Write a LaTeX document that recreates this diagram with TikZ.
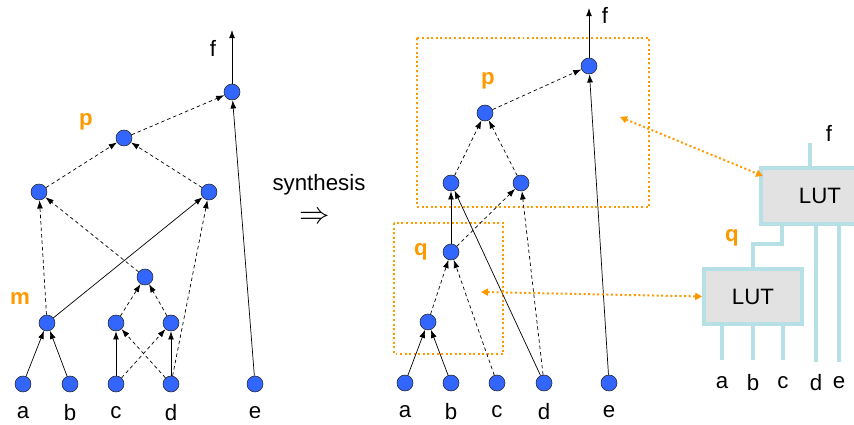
\documentclass[tikz,border=0pt]{standalone}
\usepackage{fontspec}
\setmainfont{Liberation Sans}
\usetikzlibrary{arrows.meta,backgrounds}

\definecolor{gateblue}{RGB}{51,102,255}
\definecolor{hiorange}{RGB}{255,153,0}
\definecolor{wirecyan}{RGB}{183,224,230}
\definecolor{lutgray}{RGB}{226,226,226}

\begin{document}
\begin{tikzpicture}[x=0.03cm, y=-0.03cm, >={Latex[length=7pt,width=5pt]},
    gate/.style={circle, fill=gateblue, draw=black!85, line width=0.5pt, minimum size=0.48cm, inner sep=0pt},
    sig/.style={->, line width=0.6pt},
    dep/.style={->, line width=0.6pt, dash pattern=on 3pt off 2.5pt},
    lbl/.style={inner sep=0pt, font=\fontsize{19}{22}\selectfont},
    hilite/.style={inner sep=0pt, text=hiorange, font=\fontsize{19}{22}\selectfont\bfseries},
    region/.style={draw=hiorange, line width=1.7pt, dash pattern=on 1.7pt off 2.2pt},
    link/.style={region, {Triangle[length=6pt,width=6pt]}-{Triangle[length=6pt,width=6pt]}},
    lutbox/.style={draw=wirecyan, line width=3pt, fill=lutgray, inner sep=0pt, font=\fontsize{19}{22}\selectfont},
    wire/.style={draw=wirecyan, line width=3pt}]

    \clip (0,0) rectangle (854,425);

    % --- Before synthesis ---
    \foreach \n/\x in {a/23,b/70,c/116,d/171,e/255} {
        \node[gate] (l\n) at (\x,384) {};
        \node[lbl] (lt\n) at (\x,413) {\n};
    }
    \node[gate] (lm) at (47,323) {};
    \node[gate] (lc1) at (116,323) {};
    \node[gate] (ld1) at (171,323) {};
    \node[gate] (lx) at (145,277) {};
    \node[gate] (ll) at (39,192) {};
    \node[gate] (lr) at (209,192) {};
    \node[gate] (lp) at (124,138) {};
    \node[gate] (lf) at (232,92) {};
    \coordinate (lout) at (232,30);

    \foreach \s/\t in {la/lm, lb/lm, lc/lc1, ld/ld1, lm/lr, le/lf, lf/lout}
        \draw[sig] (\s) -- (\t);
    \foreach \s/\t in {lc/ld1, ld/lc1, lc1/lx, ld1/lx, lm/ll, lx/ll, ld/lr, ll/lp, lr/lp, lp/lf}
        \draw[dep] (\s) -- (\t);

    \node[lbl] (ltf) at (213,48) {f};
    \node[hilite] (ltm) at (20,299) {m};
    \node[hilite] (ltp) at (86,122) {p};

    % --- Arrow ---
    \node[lbl] (syn) at (319,185) {synthesis};
    \node[scale=2.6, inner sep=0pt] (imp) at (315,218) {$\Rightarrow$};

    % --- After synthesis ---
    \draw[region] (417,38) rectangle (649,207);
    \draw[region] (394,223) rectangle (503,354);

    \foreach \n/\x in {a/405,b/451,c/497,d/544,e/609} {
        \node[gate] (r\n) at (\x,383) {};
        \node[lbl] (rt\n) at (\x,412) {\n};
    }
    \node[gate] (rm) at (428,322) {};
    \node[gate] (rq) at (451,252) {};
    \node[gate] (rl) at (451,183) {};
    \node[gate] (rr) at (521,183) {};
    \node[gate] (rp) at (485,113) {};
    \node[gate] (rf) at (589,66) {};
    \coordinate (rout) at (589,8);

    \foreach \s/\t in {ra/rm, rb/rm, rq/rl, rd/rl, re/rf, rf/rout}
        \draw[sig] (\s) -- (\t);
    \foreach \s/\t in {rm/rq, rc/rq, rq/rr, rd/rr, rl/rp, rr/rp, rp/rf}
        \draw[dep] (\s) -- (\t);

    \node[lbl] (rtf) at (605,15) {f};
    \node[hilite] (rtp) at (488,81) {p};
    \node[hilite] (rtq) at (421,252) {q};

    % --- LUT mapping ---
    \node[lutbox, minimum width=3.54cm, minimum height=1.68cm] (lutA) at (820,196) {LUT};
    \node[lutbox, minimum width=2.94cm, minimum height=1.65cm] (lutB) at (753,296.5) {LUT};

    \coordinate (fo) at (810,143);
    \foreach \n/\x/\y in {a/722/360, b/753/360, c/783/360, d/816/362, e/839/362} {
        \coordinate (w\n) at (\x,\y);
        \node[lbl] (mt\n) at (\x,383) {\n};
    }
    \begin{scope}[on background layer]
        \draw[wire] (fo) -- (fo |- lutA.center);
        \draw[wire] (lutB.center) -- (lutB.north) -- ++(0,-23) -| (lutA.center -| 782,0);
        \foreach \n in {a,b,c}
            \draw[wire] (w\n) -- (w\n |- lutB.center);
        \foreach \n in {d,e}
            \draw[wire] (w\n) -- (w\n |- lutA.center);
    \end{scope}

    \node[lbl] (mtf) at (829,133) {f};
    \node[hilite] (mtq) at (732,238) {q};

    % dotted correspondences
    \coordinate (pspot) at (620,117);
    \coordinate (pin) at (763,176);
    \coordinate (qspot) at (481,292);
    \draw[link] (pspot) -- (pin);
    \draw[link] (qspot) -- (lutB.west);

\end{tikzpicture}
\end{document}
